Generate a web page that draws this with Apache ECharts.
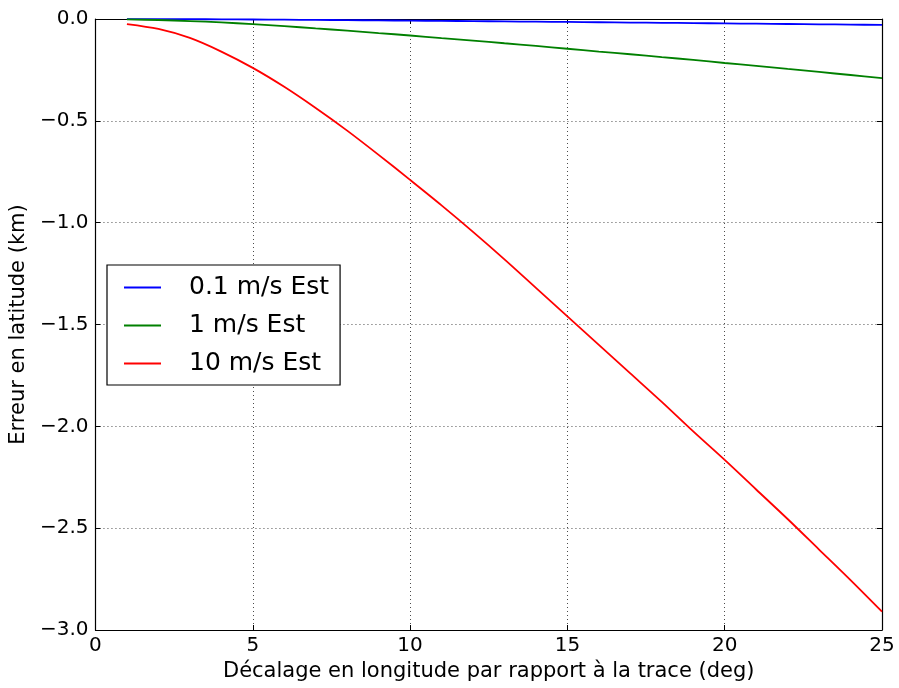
<!DOCTYPE html>
<html>
<head>
<meta charset="utf-8">
<script src="https://cdn.jsdelivr.net/npm/echarts@6/dist/echarts.min.js"></script>
<style>html,body{margin:0;padding:0;background:#fff}#c{width:899px;height:688px}</style>
</head>
<body>
<div id="c"></div>
<script>
const xs = [1,2,3,4,5,6,7,8,9,10,11,12,13,14,15,16,17,18,19,20,21,22,23,24,25];
const blue = [-0.0003,-0.0005,-0.0009,-0.0016,-0.0024,-0.0033,-0.0044,-0.0055,-0.0067,-0.0079,-0.0091,-0.0104,-0.0118,-0.0132,-0.0146,-0.016,-0.0174,-0.0188,-0.0202,-0.0216,-0.0231,-0.0246,-0.026,-0.0275,-0.029];
const green = [-0.002,-0.005,-0.010,-0.017,-0.025,-0.035,-0.046,-0.057,-0.069,-0.081,-0.094,-0.106,-0.119,-0.132,-0.146,-0.16,-0.173,-0.187,-0.201,-0.216,-0.23,-0.245,-0.26,-0.275,-0.29];
const red = [-0.025,-0.049,-0.093,-0.16,-0.24,-0.333,-0.437,-0.548,-0.667,-0.79,-0.915,-1.045,-1.18,-1.32,-1.46,-1.6,-1.74,-1.88,-2.025,-2.165,-2.31,-2.455,-2.605,-2.755,-2.91];
const names = ['0.1 m/s Est','1 m/s Est','10 m/s Est'];
const colors = ['#0000ff','#008000','#ff0000'];
const xTicks = [0,5,10,15,20,25];
const yTicks = [0,-0.5,-1,-1.5,-2,-2.5,-3];

const font = 'DejaVu Sans';
const pair = arr => xs.map((x,i)=>[x,arr[i]]);
const fmtY = v => (v<0?'\u2212':'') + Math.abs(v).toFixed(1);

const chart = echarts.init(document.getElementById('c'));
const axisCommon = {
  axisLine:{show:true,onZero:false,lineStyle:{color:'#000',width:1.2}},
  axisTick:{show:true,inside:true,length:5,lineStyle:{color:'#000'}},
};
chart.setOption({
  animation:false,
  backgroundColor:'#fff',
  grid:{left:95,right:17,top:19,bottom:58},
  legend:{
    left:107, top:265, orient:'vertical',
    data:names.map((n,i)=>({name:n,icon:'rect'})),
    itemWidth:37, itemHeight:2, itemGap:13,
    padding:[10,11,9,17],
    borderColor:'#000', borderWidth:1.2, borderRadius:0,
    backgroundColor:'#fff',
    textStyle:{fontFamily:font,fontSize:25,color:'#000',lineHeight:25,padding:[0,0,0,23]}
  },
  xAxis:[{
    type:'value',min:0,max:25,interval:5,
    name:'Décalage en longitude par rapport à la trace (deg)',
    nameLocation:'middle',nameGap:30,
    nameTextStyle:{fontFamily:font,fontSize:21,color:'#000'},
    ...axisCommon,
    axisLabel:{fontFamily:font,fontSize:20,color:'#000',margin:6},
    splitLine:{show:true,lineStyle:{color:'#000',type:[1,3],width:1,opacity:0.7}}
  },{
    type:'value',min:0,max:25,interval:5,position:'top',
    ...axisCommon,axisLabel:{show:false},splitLine:{show:false}
  }],
  yAxis:[{
    type:'value',min:-3,max:0,interval:0.5,
    name:'Erreur en latitude (km)',
    nameLocation:'middle',nameGap:62,
    nameTextStyle:{fontFamily:font,fontSize:21,color:'#000'},
    ...axisCommon,
    axisLabel:{fontFamily:font,fontSize:20,color:'#000',margin:7,formatter:fmtY},
    splitLine:{show:true,lineStyle:{color:'#000',type:[1,3],width:1,opacity:0.7}}
  },{
    type:'value',min:-3,max:0,interval:0.5,position:'right',
    ...axisCommon,axisLabel:{show:false},splitLine:{show:false}
  }],
  series:[blue,green,red].map((d,i)=>({
    name:names[i],type:'line',data:pair(d),smooth:0.3,
    showSymbol:false,symbol:'none',
    lineStyle:{color:colors[i],width:1.8},itemStyle:{color:colors[i]},
    z:3+i
  }))
});
</script>
</body>
</html>
